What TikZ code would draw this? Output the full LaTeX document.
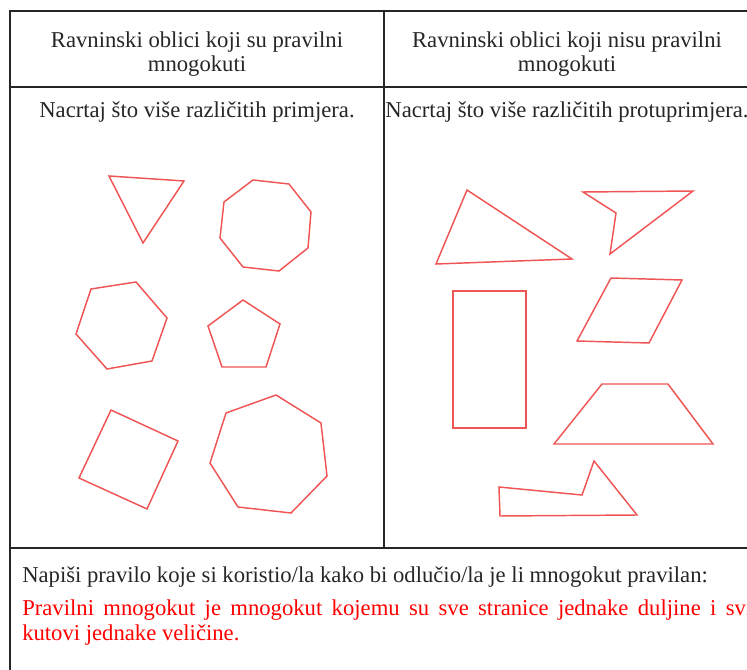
\documentclass[tikz,border=0pt]{standalone}
\usepackage{fontspec}
\setmainfont{Liberation Serif}
\definecolor{crta}{RGB}{240,85,85}
\definecolor{crvena}{RGB}{255,0,0}
\begin{document}
\begin{tikzpicture}[x=0.75pt,y=-0.75pt,
  lik/.style={draw=crta, line width=1.1pt, line join=miter},
  tablica/.style={draw=black!85, line width=0.9pt},
  tekst/.style={font=\rmfamily\fontsize{17}{17.5}\selectfont, text=black!85, inner sep=0pt, align=center}]
  \useasboundingbox (0,0) rectangle (747,670);
  % tablica
  \draw[tablica] (10,670) -- (10,11) -- (760,11);
  \draw[tablica] (10,87) -- (760,87);
  \draw[tablica] (10,548) -- (760,548);
  \draw[tablica] (384,11) -- (384,548);
  % zaglavlje
  \node[tekst] (naslovL) at (197,54) {Ravninski oblici koji su pravilni\\mnogokuti};
  \node[tekst] (naslovD) at (567,54) {Ravninski oblici koji nisu pravilni\\mnogokuti};
  \node[tekst] (uputaL) at (197,112) {Nacrtaj što više različitih primjera.};
  \node[tekst] (uputaD) at (567,112) {Nacrtaj što više različitih protuprimjera.};
  % pravilni mnogokuti
  \draw[lik] (109,176) -- (184,181) -- (143,243) -- cycle;
  \draw[lik] (253,180) -- (289,184) -- (311,212) -- (308,248) -- (279,271)
    -- (243,267) -- (220,238) -- (224,202) -- cycle;
  \draw[lik] (91,289) -- (136,282) -- (167,318) -- (152,361) -- (107,369)
    -- (76,334) -- cycle;
  \draw[lik] (243,300) -- (280,324) -- (266,367) -- (222,367) -- (208,326) -- cycle;
  \draw[lik] (111,410) -- (178,441) -- (147,509) -- (79,478) -- cycle;
  \draw[lik] (276,395) -- (321,423) -- (327,476) -- (291,513) -- (238,507)
    -- (210,463) -- (226,413) -- cycle;
  % nepravilni mnogokuti
  \draw[lik] (467,190) -- (572,259) -- (436,264) -- cycle;
  \draw[lik] (583,192) -- (693,191) -- (610,254) -- (616,213) -- cycle;
  \draw[lik] (453,291) rectangle (526,428);
  \draw[lik] (611,278) -- (682,280) -- (649,343) -- (577,341) -- cycle;
  \draw[lik] (602,384) -- (668,384) -- (713,444) -- (554,444) -- cycle;
  \draw[lik] (499,487) -- (582,495) -- (594,461) -- (637,515) -- (500,516) -- cycle;
  % pravilo
  \node[tekst, anchor=west] (pitanje) at (22,577)
    {Napiši pravilo koje si koristio/la kako bi odlučio/la je li mnogokut pravilan:};
  \node[tekst, anchor=north west, text=crvena, text width=547.5pt, align=justify,
    font=\rmfamily\fontsize{17}{18.75}\selectfont] (odgovor) at (22,600)
    {Pravilni mnogokut je mnogokut kojemu su sve stranice jednake duljine i svi\linebreak
     kutovi jednake veličine.};
\end{tikzpicture}
\end{document}
